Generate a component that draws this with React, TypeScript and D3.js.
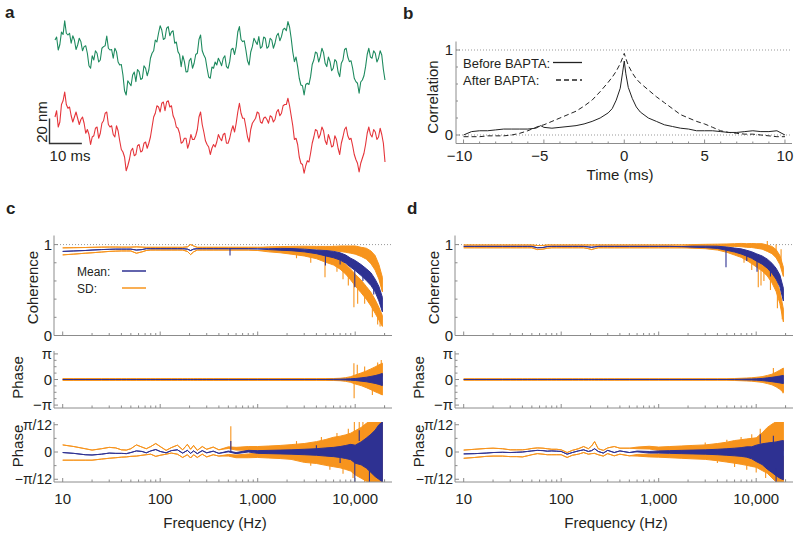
import React from 'react';
import * as d3 from 'd3';

// ---------------- Panel a: traces (nm, 0.5 ms steps) ----------------
const traceGreen = [
  13.6, 16, 5.6, 10, 20, 18, 29, 19, 17.6, 19, 11, 17, 13.6, 6, 9.6, 15, 12.3, 5, 8.3, 9,
  3, -7, -9, 1, -2.4, 5, 3, -4, -2.4, 7, 8.3, 9, 16.8, 7, 5.6, 6, -1, 7, 4.3, -4,
  -6.4, -6, -14.4, -27, -30.4, -19, -21, -23, -14.4, -12, -19.7, -10, -11.7, -18, -17, -7, -9, -15, -10.4, -1,
  3, 5, 13.6, 12, 19, 25, 21.6, 14, 15, 23, 24.3, 17, 20, 21, 11, 12, 4.3, 2, -7.7, 1,
  -3.7, -12, -11.7, -3, -1, -9, -5, 2, 3, 14, 17.6, 5, 1.6, -1, -9, -16, -17, -8, -9, -4,
  -6.4, -1, -3.7, -7, -1, 1, -7.7, -9, -3.7, 6, 7, 2, 8.3, 20, 24.3, 14, 12.3, 13, 5.6, -3,
  -6.4, 4, 8.3, 15, 12.3, 10, 16.3, 7, 8.3, 16, 15, 7, 8.3, 15, 13.6, 7, 11, 17, 19, 13,
  16.3, 22, 23, 21, 28.3, 24, 15, 4, -3.7, 0, -7.7, -17, -22.4, -23, -30.4, -22, -21, -22, -15.7, -6,
  -2.4, 4, 3, -4, 0.3, 7, 3.5, -5, -7.7, 0, -3.7, -11, -9, -2, -3.7, -12, -15.7, -5, -2.4, 6,
  7, 0, -3.7, -3, -9, -17, -19.7, -21, -29, -20, -18.4, -15, -7.7, 2, 7, 0, -1, 5, 3, -4,
  -1, 5, 1.6, -10, -18.4,
];
const traceRed = [
  12, 17, 4, 8, 22, 25, 32, 22, 19, 20, 13, 8, 12, 16, 11, 6, 10, 12, 7, -1,
  2, -2, -10, -4, -3, 3, 4, -5, -1, 7, 9, 15, 16, 6, 4, 5, -2, -4, 5, 1,
  -7, -14, -16, -20, -31, -27, -22, -15, -13, -19, -18, -11, -10, -16, -15, -9, -8, -13, -9, -4,
  4, 12, 15, 21, 20, 16, 23, 24, 17, 24, 25, 20, 21, 13, 10, 4, 3, -1, -9, -8,
  -5, -5, -13, -9, -2, -6, -6, -3, 2, 12, 16, 6, 0, -7, -10, -12, -18, -13, -10, -12,
  -8, -2, -5, -7, -2, -1, -9, -9, -5, 1, 5, 0, 7, 16, 23, 15, 11, 11, 4, -4,
  -8, 2, 7, 9, 11, 16, 15, 8, 7, 11, 12, 10, 7, 13, 12, 8, 10, 16, 18, 13,
  15, 21, 22, 22, 27, 21, 13, 5, -6, -5, -10, -20, -25, -26, -33, -27, -23, -24, -17, -9,
  -4, 2, 1, -5, -2, 4, 1, -7, -10, -2, -6, -12, -11, -3, -6, -13, -18, -9, -4, 2,
  4, -3, -6, -5, -11, -18, -22, -25, -32, -25, -21, -17, -10, -1, 4, -2, -4, 2, 0, -6,
  -4, 3, -2, -9, -24,
];
const traceDurationMs = 102;

// ---------------- Panel b: correlation ----------------
const corrTime = [-10, -9.5, -9, -8.5, -8, -7.5, -7, -6.5, -6, -5.5, -5.2, -5, -4.5, -4, -3.5, -3, -2.5, -2, -1.5, -1,
  -0.75, -0.5, -0.25, -0.1, 0, 0.1, 0.25, 0.5, 0.75, 1, 1.5, 2, 2.5, 3, 3.5, 4, 4.5, 5, 5.5, 6,
  6.5, 7, 7.5, 8, 8.5, 9, 9.5, 10];
const corrBefore = [0.0, 0.04, 0.05, 0.05, 0.06, 0.07, 0.07, 0.07, 0.07, 0.08, 0.11, 0.09, 0.08, 0.09, 0.1, 0.11, 0.13, 0.16, 0.2, 0.26,
  0.31, 0.41, 0.55, 0.74, 0.87, 0.72, 0.56, 0.43, 0.33, 0.27, 0.2, 0.16, 0.12, 0.1, 0.08, 0.07, 0.05, 0.05, 0.05, 0.04,
  0.03, 0.03, 0.04, 0.05, 0.04, 0.04, 0.05, 0.0];
const corrAfter = [-0.02, -0.02, -0.02, -0.01, -0.01, -0.01, 0, 0.02, 0.05, 0.09, 0.11, 0.12, 0.16, 0.2, 0.24, 0.28, 0.34, 0.41, 0.51, 0.62,
  0.68, 0.75, 0.84, 0.91, 0.96, 0.9, 0.82, 0.73, 0.66, 0.61, 0.53, 0.45, 0.38, 0.31, 0.24, 0.2, 0.16, 0.13, 0.09, 0.05,
  0.03, 0.02, 0.01, 0.01, 0, -0.01, -0.02, -0.02];
const corrXTicks = [-10, -5, 0, 5, 10];
const corrYTicks = [0, 1];

// ---------------- Panels c, d: spectra ----------------
const freq = [10, 13, 17, 20, 25, 30, 35, 40, 45, 50, 57, 65, 72, 80, 90, 100, 115, 130, 150, 170,
  190, 205, 220, 240, 270, 300, 350, 400, 500, 600, 800, 1000, 1300, 1700, 2200, 3000, 4000, 5000, 6000, 7000,
  8000, 9000, 10000, 11500, 13000, 14500, 16000, 17500, 19000];
const freqTicks = [10, 100, 1000, 10000];
const freqTickLabels = ['10', '100', '1,000', '10,000'];

// c — coherence
const cCohMean = [0.925, 0.93, 0.935, 0.94, 0.945, 0.948, 0.95, 0.95, 0.95, 0.95,
  0.94, 0.945, 0.955, 0.955, 0.955, 0.955, 0.955, 0.955, 0.955, 0.955,
  0.95, 0.935, 0.95, 0.955, 0.955, 0.955, 0.955, 0.955, 0.955, 0.955,
  0.955, 0.953, 0.95, 0.948, 0.945, 0.935, 0.92, 0.905, 0.89, 0.87,
  0.84, 0.8, 0.77, 0.72, 0.67, 0.62, 0.55, 0.46, 0.34];
const cCohMeanW = [0, 0, 0, 0, 0, 0, 0, 0, 0, 0,
  0, 0, 0, 0, 0, 0, 0, 0, 0, 0,
  0, 0, 0, 0, 0, 0, 0, 0, 0, 0,
  0, 0, 0.005, 0.01, 0.012, 0.015, 0.02, 0.03, 0.035, 0.04,
  0.045, 0.05, 0.055, 0.06, 0.065, 0.07, 0.07, 0.08, 0.08];
const cCohUp = [0.964, 0.966, 0.968, 0.97, 0.972, 0.973, 0.973, 0.972, 0.972, 0.972,
  0.975, 0.972, 0.97, 0.97, 0.97, 0.97, 0.97, 0.97, 0.97, 0.97,
  0.975, 1.0, 0.985, 0.97, 0.97, 0.97, 0.97, 0.97, 0.97, 0.97,
  0.97, 0.97, 0.97, 0.97, 0.97, 0.97, 0.965, 0.96, 0.955, 0.955,
  0.95, 0.945, 0.94, 0.92, 0.9, 0.86, 0.8, 0.7, 0.56];
const cCohUpW = [0, 0, 0, 0, 0, 0, 0, 0, 0, 0,
  0, 0, 0, 0, 0, 0, 0, 0, 0, 0,
  0, 0, 0, 0, 0, 0, 0, 0, 0, 0,
  0, 0, 0.005, 0.008, 0.01, 0.012, 0.015, 0.02, 0.025, 0.03,
  0.035, 0.04, 0.045, 0.05, 0.06, 0.07, 0.08, 0.08, 0.08];
const cCohLo = [0.887, 0.895, 0.905, 0.91, 0.918, 0.925, 0.928, 0.93, 0.93, 0.93,
  0.905, 0.92, 0.935, 0.94, 0.94, 0.94, 0.94, 0.94, 0.94, 0.94,
  0.925, 0.89, 0.92, 0.94, 0.94, 0.94, 0.94, 0.94, 0.94, 0.94,
  0.94, 0.935, 0.93, 0.925, 0.915, 0.9, 0.875, 0.845, 0.82, 0.78,
  0.73, 0.67, 0.61, 0.54, 0.47, 0.4, 0.32, 0.24, 0.16];
const cCohLoW = [0, 0, 0, 0, 0, 0, 0, 0, 0, 0,
  0, 0, 0, 0, 0, 0, 0, 0, 0, 0,
  0, 0, 0, 0, 0, 0, 0, 0, 0, 0,
  0, 0, 0.01, 0.015, 0.02, 0.025, 0.03, 0.04, 0.045, 0.05,
  0.055, 0.06, 0.065, 0.07, 0.07, 0.075, 0.075, 0.07, 0.06];
const cCohSpikes = [
  { f: 520, from: 0.955, to: 0.88, s: 'mean' },
  { f: 4900, from: 0.9, to: 0.64, s: 'sd' },
  { f: 4950, from: 0.9, to: 0.77, s: 'mean' },
  { f: 9700, from: 0.6, to: 0.31, s: 'sd' },
  { f: 10600, from: 0.6, to: 0.35, s: 'sd' },
  { f: 9900, from: 0.72, to: 0.53, s: 'mean' },
  { f: 2500, from: 0.9, to: 0.85, s: 'sd' },
  { f: 3500, from: 0.88, to: 0.8, s: 'sd' },
  { f: 6500, from: 0.8, to: 0.7, s: 'sd' },
  { f: 7500, from: 0.75, to: 0.62, s: 'sd' },
  { f: 8500, from: 0.7, to: 0.55, s: 'sd' },
  { f: 12500, from: 0.5, to: 0.35, s: 'sd' },
  { f: 15000, from: 0.38, to: 0.2, s: 'sd' },
  { f: 17000, from: 0.25, to: 0.12, s: 'sd' },
  { f: 18000, from: 0.2, to: 0.1, s: 'sd' },
  { f: 6000, from: 0.96, to: 0.99, s: 'sd' },
  { f: 12000, from: 0.93, to: 0.97, s: 'sd' },
  { f: 7000, from: 0.85, to: 0.78, s: 'mean' },
  { f: 12000, from: 0.7, to: 0.6, s: 'mean' },
  { f: 15500, from: 0.56, to: 0.45, s: 'mean' },
];

// c — phase (radians)
const cPhMean = [0, 0, 0, 0, 0, 0, 0, 0, 0, 0,
  0, 0, 0, 0, 0, 0, 0, 0, 0, 0,
  0, 0, 0, 0, 0, 0, 0, 0, 0, 0,
  0, 0, 0, 0, 0, 0, 0, 0, 0, 0,
  0, 0, 0, 0, 0, 0, 0, 0, 0];
const cPhMeanW = [0, 0, 0, 0, 0, 0, 0, 0, 0, 0,
  0, 0, 0, 0, 0, 0, 0, 0, 0, 0,
  0, 0, 0, 0, 0, 0, 0, 0, 0, 0,
  0, 0, 0, 0, 0, 0, 0, 0, 0.02, 0.04,
  0.06, 0.09, 0.12, 0.2, 0.28, 0.38, 0.48, 0.6, 0.75];
const cPhUp = [0.1, 0.1, 0.1, 0.1, 0.1, 0.1, 0.1, 0.1, 0.1, 0.1,
  0.1, 0.1, 0.1, 0.1, 0.1, 0.1, 0.1, 0.1, 0.1, 0.1,
  0.1, 0.1, 0.1, 0.1, 0.1, 0.1, 0.1, 0.1, 0.1, 0.1,
  0.1, 0.1, 0.1, 0.1, 0.1, 0.1, 0.1, 0.1, 0.1, 0.12,
  0.17, 0.25, 0.35, 0.5, 0.65, 0.8, 0.95, 1.1, 1.2];
const cPhUpW = [0, 0, 0, 0, 0, 0, 0, 0, 0, 0,
  0, 0, 0, 0, 0, 0, 0, 0, 0, 0,
  0, 0, 0, 0, 0, 0, 0, 0, 0, 0,
  0, 0, 0, 0, 0, 0, 0, 0.02, 0.02, 0.03,
  0.06, 0.1, 0.2, 0.3, 0.4, 0.5, 0.6, 0.7, 0.8];
const cPhLo = [-0.1, -0.1, -0.1, -0.1, -0.1, -0.1, -0.1, -0.1, -0.1, -0.1,
  -0.1, -0.1, -0.1, -0.1, -0.1, -0.1, -0.1, -0.1, -0.1, -0.1,
  -0.1, -0.1, -0.1, -0.1, -0.1, -0.1, -0.1, -0.1, -0.1, -0.1,
  -0.1, -0.1, -0.1, -0.1, -0.1, -0.1, -0.1, -0.1, -0.1, -0.12,
  -0.17, -0.25, -0.35, -0.45, -0.6, -0.75, -0.9, -1.0, -1.1];
const cPhLoW = [0, 0, 0, 0, 0, 0, 0, 0, 0, 0,
  0, 0, 0, 0, 0, 0, 0, 0, 0, 0,
  0, 0, 0, 0, 0, 0, 0, 0, 0, 0,
  0, 0, 0, 0, 0, 0, 0, 0.02, 0.02, 0.03,
  0.06, 0.1, 0.2, 0.3, 0.4, 0.5, 0.6, 0.7, 0.8];
const cPhSpikes = [
  { f: 9700, from: -0.3, to: 2.0, s: 'sd' },
  { f: 9750, from: 0.3, to: -2.3, s: 'sd' },
  { f: 10500, from: 0.3, to: 1.8, s: 'sd' },
  { f: 12500, from: 0.8, to: 1.6, s: 'sd' },
  { f: 15000, from: -1.0, to: -1.9, s: 'sd' },
  { f: 17000, from: 1.3, to: 2.1, s: 'sd' },
  { f: 18500, from: 1.0, to: 2.4, s: 'sd' },
];

// c — zoomed phase (units of π/12)
const cPh2Mean = [-0.02, -0.05, -0.1, -0.11, -0.08, -0.04, -0.05, -0.05, -0.06, -0.02,
  0.04, 0.02, -0.03, 0.04, 0.09, 0.02, -0.03, 0.05, 0.08, -0.04,
  0.06, -0.05, 0.04, -0.06, 0.05, -0.03, 0.03, -0.05, 0.02, -0.04,
  0.03, 0, 0, 0, 0, 0, 0, 0, 0, 0,
  0, 0, -0.08, -0.05, -0.04, -0.05, -0.05, 0, 0];
const cPh2MeanW = [0, 0, 0, 0, 0, 0, 0, 0, 0, 0,
  0, 0, 0, 0, 0, 0, 0, 0, 0, 0,
  0, 0, 0, 0, 0, 0, 0, 0, 0.015, 0.02,
  0.03, 0.05, 0.06, 0.07, 0.08, 0.1, 0.12, 0.15, 0.17, 0.2,
  0.24, 0.28, 0.33, 0.42, 0.55, 0.7, 0.85, 1.0, 1.1];
const cPh2Up = [0.26, 0.2, 0.12, 0.07, 0.12, 0.17, 0.15, 0.08, 0.07, 0.12,
  0.26, 0.18, 0.12, 0.2, 0.31, 0.2, 0.06, 0.16, 0.25, 0.08,
  0.28, 0.1, 0.24, 0.06, 0.2, 0.1, 0.18, 0.08, 0.16, 0.12,
  0.13, 0.12, 0.13, 0.14, 0.15, 0.17, 0.2, 0.24, 0.28, 0.3,
  0.33, 0.36, 0.4, 0.45, 0.5, 0.55, 0.6, 0.65, 0.7];
const cPh2UpW = [0, 0, 0, 0, 0, 0, 0, 0, 0, 0,
  0, 0, 0, 0, 0, 0, 0, 0, 0, 0,
  0, 0, 0, 0, 0, 0, 0, 0, 0.03, 0.05,
  0.07, 0.08, 0.09, 0.1, 0.12, 0.14, 0.18, 0.22, 0.26, 0.28,
  0.3, 0.33, 0.38, 0.45, 0.55, 0.6, 0.65, 0.7, 0.75];
const cPh2Lo = [-0.3, -0.3, -0.3, -0.3, -0.26, -0.23, -0.21, -0.19, -0.18, -0.16,
  -0.15, -0.12, -0.1, -0.08, -0.16, -0.12, -0.08, -0.04, -0.08, -0.2,
  -0.1, -0.22, -0.1, -0.2, -0.08, -0.18, -0.1, -0.15, -0.12, -0.16,
  -0.14, -0.12, -0.13, -0.14, -0.15, -0.2, -0.22, -0.25, -0.28, -0.3,
  -0.33, -0.36, -0.42, -0.48, -0.52, -0.56, -0.6, -0.65, -0.7];
const cPh2LoW = [0, 0, 0, 0, 0, 0, 0, 0, 0, 0,
  0, 0, 0, 0, 0, 0, 0, 0, 0, 0,
  0, 0, 0, 0, 0, 0, 0, 0, 0.03, 0.05,
  0.07, 0.08, 0.09, 0.1, 0.12, 0.18, 0.2, 0.24, 0.26, 0.28,
  0.31, 0.34, 0.42, 0.48, 0.55, 0.6, 0.65, 0.7, 0.75];
const cPh2Spikes = [
  { f: 530, from: 0.15, to: 0.94, s: 'sd' },
  { f: 530, from: 0.0, to: 0.4, s: 'mean' },
  { f: 9800, from: 0.5, to: 1.1, s: 'sd' },
  { f: 12000, from: 0.5, to: 1.1, s: 'sd' },
  { f: 2500, from: 0.25, to: 0.4, s: 'sd' },
  { f: 4500, from: 0.4, to: 0.55, s: 'sd' },
  { f: 6500, from: 0.5, to: 0.7, s: 'sd' },
  { f: 8500, from: 0.6, to: 0.85, s: 'sd' },
  { f: 11000, from: 0.8, to: 1.1, s: 'sd' },
  { f: 3500, from: -0.3, to: -0.5, s: 'sd' },
  { f: 5500, from: -0.45, to: -0.65, s: 'sd' },
  { f: 7500, from: -0.55, to: -0.8, s: 'sd' },
  { f: 9500, from: -0.7, to: -0.95, s: 'sd' },
  { f: 12500, from: -0.9, to: -1.1, s: 'sd' },
  { f: 9900, from: -0.3, to: -1.1, s: 'mean' },
  { f: 4000, from: 0.1, to: 0.25, s: 'mean' },
  { f: 7000, from: -0.2, to: -0.4, s: 'mean' },
  { f: 11000, from: 0.4, to: 0.8, s: 'mean' },
  { f: 14000, from: -0.7, to: -1.1, s: 'mean' },
];

// d — coherence
const dCohMean = [0.98, 0.98, 0.98, 0.98, 0.98, 0.98, 0.98, 0.98, 0.98, 0.98,
  0.965, 0.968, 0.978, 0.98, 0.98, 0.98, 0.98, 0.98, 0.98, 0.98,
  0.975, 0.97, 0.975, 0.98, 0.98, 0.98, 0.98, 0.98, 0.98, 0.98,
  0.98, 0.98, 0.98, 0.978, 0.977, 0.975, 0.97, 0.955, 0.94, 0.925,
  0.905, 0.885, 0.86, 0.83, 0.79, 0.74, 0.68, 0.6, 0.45];
const dCohMeanW = [0, 0, 0, 0, 0, 0, 0, 0, 0, 0,
  0, 0, 0, 0, 0, 0, 0, 0, 0, 0,
  0, 0, 0, 0, 0, 0, 0, 0, 0, 0,
  0, 0, 0, 0, 0.005, 0.008, 0.012, 0.018, 0.022, 0.028,
  0.032, 0.036, 0.04, 0.045, 0.05, 0.055, 0.06, 0.065, 0.07];
const dCohUp = [0.995, 0.995, 0.995, 0.995, 0.995, 0.995, 0.995, 0.995, 0.995, 0.995,
  0.99, 0.99, 0.995, 0.995, 0.995, 0.995, 0.995, 0.995, 0.995, 0.995,
  0.995, 0.995, 0.995, 0.995, 0.995, 0.995, 0.995, 0.995, 0.995, 0.995,
  0.995, 0.995, 0.995, 0.995, 0.995, 0.995, 0.995, 0.995, 0.995, 0.995,
  0.99, 0.99, 0.985, 0.98, 0.96, 0.94, 0.9, 0.83, 0.7];
const dCohUpW = [0, 0, 0, 0, 0, 0, 0, 0, 0, 0,
  0, 0, 0, 0, 0, 0, 0, 0, 0, 0,
  0, 0, 0, 0, 0, 0, 0, 0, 0, 0,
  0, 0, 0, 0, 0.005, 0.008, 0.01, 0.012, 0.015, 0.018,
  0.02, 0.022, 0.025, 0.03, 0.035, 0.04, 0.045, 0.05, 0.05];
const dCohLo = [0.965, 0.965, 0.965, 0.965, 0.965, 0.965, 0.965, 0.965, 0.965, 0.965,
  0.945, 0.95, 0.96, 0.965, 0.965, 0.965, 0.965, 0.965, 0.965, 0.965,
  0.955, 0.945, 0.955, 0.965, 0.965, 0.965, 0.965, 0.965, 0.965, 0.965,
  0.965, 0.965, 0.965, 0.965, 0.965, 0.965, 0.955, 0.935, 0.91, 0.89,
  0.86, 0.83, 0.8, 0.76, 0.71, 0.64, 0.55, 0.42, 0.22];
const dCohLoW = [0, 0, 0, 0, 0, 0, 0, 0, 0, 0,
  0, 0, 0, 0, 0, 0, 0, 0, 0, 0,
  0, 0, 0, 0, 0, 0, 0, 0, 0, 0,
  0, 0, 0, 0, 0.005, 0.01, 0.015, 0.02, 0.025, 0.03,
  0.035, 0.04, 0.045, 0.05, 0.055, 0.06, 0.065, 0.07, 0.07];
const dCohSpikes = [
  { f: 4900, from: 0.96, to: 0.75, s: 'mean' },
  { f: 10500, from: 0.8, to: 0.53, s: 'sd' },
  { f: 11200, from: 0.78, to: 0.55, s: 'sd' },
  { f: 13000, from: 0.96, to: 1.04, s: 'sd' },
  { f: 10200, from: 0.85, to: 0.7, s: 'mean' },
  { f: 7500, from: 0.88, to: 0.8, s: 'sd' },
  { f: 9000, from: 0.83, to: 0.72, s: 'sd' },
  { f: 12000, from: 0.75, to: 0.6, s: 'sd' },
  { f: 14000, from: 0.66, to: 0.5, s: 'sd' },
  { f: 16500, from: 0.5, to: 0.3, s: 'sd' },
  { f: 18500, from: 0.3, to: 0.18, s: 'sd' },
  { f: 16000, from: 0.92, to: 1.0, s: 'sd' },
  { f: 18000, from: 0.8, to: 0.95, s: 'sd' },
  { f: 8000, from: 0.9, to: 0.82, s: 'mean' },
  { f: 14000, from: 0.75, to: 0.65, s: 'mean' },
];

// d — phase (radians)
const dPhMean = [0, 0, 0, 0, 0, 0, 0, 0, 0, 0,
  0, 0, 0, 0, 0, 0, 0, 0, 0, 0,
  0, 0, 0, 0, 0, 0, 0, 0, 0, 0,
  0, 0, 0, 0, 0, 0, 0, 0, 0, 0,
  0, 0, 0, 0, 0, 0, 0, 0, 0];
const dPhMeanW = [0, 0, 0, 0, 0, 0, 0, 0, 0, 0,
  0, 0, 0, 0, 0, 0, 0, 0, 0, 0,
  0, 0, 0, 0, 0, 0, 0, 0, 0, 0,
  0, 0, 0, 0, 0, 0, 0, 0, 0.01, 0.03,
  0.05, 0.06, 0.08, 0.13, 0.2, 0.27, 0.35, 0.42, 0.5];
const dPhUp = [0.08, 0.08, 0.08, 0.08, 0.08, 0.08, 0.08, 0.08, 0.08, 0.08,
  0.08, 0.08, 0.08, 0.08, 0.08, 0.08, 0.08, 0.08, 0.08, 0.08,
  0.08, 0.08, 0.08, 0.08, 0.08, 0.08, 0.08, 0.08, 0.08, 0.08,
  0.08, 0.08, 0.08, 0.08, 0.08, 0.08, 0.08, 0.08, 0.1, 0.12,
  0.14, 0.16, 0.2, 0.25, 0.35, 0.45, 0.6, 0.75, 0.9];
const dPhUpW = [0, 0, 0, 0, 0, 0, 0, 0, 0, 0,
  0, 0, 0, 0, 0, 0, 0, 0, 0, 0,
  0, 0, 0, 0, 0, 0, 0, 0, 0, 0,
  0, 0, 0, 0, 0, 0, 0, 0, 0.02, 0.03,
  0.04, 0.05, 0.07, 0.1, 0.15, 0.2, 0.3, 0.4, 0.5];
const dPhLo = [-0.08, -0.08, -0.08, -0.08, -0.08, -0.08, -0.08, -0.08, -0.08, -0.08,
  -0.08, -0.08, -0.08, -0.08, -0.08, -0.08, -0.08, -0.08, -0.08, -0.08,
  -0.08, -0.08, -0.08, -0.08, -0.08, -0.08, -0.08, -0.08, -0.08, -0.08,
  -0.08, -0.08, -0.08, -0.08, -0.08, -0.08, -0.08, -0.08, -0.1, -0.12,
  -0.14, -0.16, -0.2, -0.25, -0.35, -0.45, -0.6, -0.8, -1.0];
const dPhLoW = [0, 0, 0, 0, 0, 0, 0, 0, 0, 0,
  0, 0, 0, 0, 0, 0, 0, 0, 0, 0,
  0, 0, 0, 0, 0, 0, 0, 0, 0, 0,
  0, 0, 0, 0, 0, 0, 0, 0, 0.02, 0.03,
  0.04, 0.05, 0.07, 0.1, 0.15, 0.2, 0.3, 0.4, 0.6];
const dPhSpikes = [
  { f: 15000, from: 0.5, to: 1.4, s: 'sd' },
  { f: 18800, from: -0.8, to: -1.7, s: 'sd' },
];

// d — zoomed phase (units of π/12)
const dPh2Mean = [-0.07, -0.06, -0.04, -0.02, -0.01, -0.02, -0.01, 0, 0.02, 0.04,
  0.06, 0.05, 0.03, 0.04, 0.03, 0.02, -0.08, -0.02, 0.04, 0.08,
  0.02, 0.05, 0.12, 0.02, -0.04, 0.06, -0.02, 0.04, -0.02, 0.02,
  -0.01, 0, 0, 0, 0, 0, 0, 0, 0, 0,
  0, -0.03, -0.05, -0.08, -0.15, -0.2, -0.25, -0.28, -0.3];
const dPh2MeanW = [0, 0, 0, 0, 0, 0, 0, 0, 0, 0,
  0, 0, 0, 0, 0, 0, 0, 0, 0, 0,
  0, 0, 0, 0, 0, 0, 0, 0, 0, 0.015,
  0.03, 0.04, 0.05, 0.06, 0.07, 0.08, 0.1, 0.12, 0.14, 0.16,
  0.19, 0.22, 0.3, 0.38, 0.48, 0.55, 0.62, 0.68, 0.72];
const dPh2Up = [0.07, 0.1, 0.13, 0.14, 0.12, 0.08, 0.08, 0.08, 0.1, 0.13,
  0.15, 0.14, 0.12, 0.1, 0.1, 0.08, -0.02, 0.06, 0.12, 0.2,
  0.12, 0.22, 0.38, 0.12, 0.06, 0.15, 0.2, 0.14, 0.14, 0.15,
  0.16, 0.12, 0.13, 0.14, 0.15, 0.16, 0.18, 0.2, 0.22, 0.24,
  0.26, 0.27, 0.28, 0.35, 0.45, 0.52, 0.56, 0.58, 0.6];
const dPh2UpW = [0, 0, 0, 0, 0, 0, 0, 0, 0, 0,
  0, 0, 0, 0, 0, 0, 0, 0, 0, 0,
  0, 0, 0, 0, 0, 0, 0, 0, 0, 0.03,
  0.05, 0.06, 0.07, 0.08, 0.09, 0.1, 0.13, 0.16, 0.2, 0.21,
  0.22, 0.23, 0.24, 0.35, 0.45, 0.5, 0.55, 0.55, 0.55];
const dPh2Lo = [-0.23, -0.2, -0.16, -0.15, -0.15, -0.17, -0.17, -0.18, -0.14, -0.1,
  -0.06, -0.08, -0.1, -0.1, -0.1, -0.1, -0.2, -0.12, -0.08, -0.02,
  -0.08, -0.06, -0.05, -0.1, -0.15, -0.06, -0.14, -0.08, -0.14, -0.12,
  -0.13, -0.13, -0.14, -0.15, -0.16, -0.17, -0.19, -0.21, -0.22, -0.24,
  -0.26, -0.28, -0.3, -0.38, -0.45, -0.55, -0.6, -0.65, -0.65];
const dPh2LoW = [0, 0, 0, 0, 0, 0, 0, 0, 0, 0,
  0, 0, 0, 0, 0, 0, 0, 0, 0, 0,
  0, 0, 0, 0, 0, 0, 0, 0, 0, 0.03,
  0.05, 0.06, 0.07, 0.08, 0.09, 0.1, 0.13, 0.16, 0.19, 0.21,
  0.23, 0.25, 0.26, 0.3, 0.33, 0.4, 0.5, 0.5, 0.5];
const dPh2Spikes = [
  { f: 16000, from: -0.6, to: -1.1, s: 'mean' },
  { f: 3000, from: 0.25, to: 0.35, s: 'sd' },
  { f: 5000, from: 0.35, to: 0.45, s: 'sd' },
  { f: 7000, from: 0.42, to: 0.55, s: 'sd' },
  { f: 9000, from: 0.48, to: 0.65, s: 'sd' },
  { f: 11000, from: 0.6, to: 0.85, s: 'sd' },
  { f: 4000, from: -0.3, to: -0.4, s: 'sd' },
  { f: 6000, from: -0.4, to: -0.55, s: 'sd' },
  { f: 8000, from: -0.48, to: -0.65, s: 'sd' },
  { f: 10000, from: -0.55, to: -0.75, s: 'sd' },
  { f: 12500, from: -0.7, to: -0.95, s: 'sd' },
  { f: 11000, from: 0.3, to: 0.65, s: 'mean' },
  { f: 15000, from: 0.2, to: 0.6, s: 'mean' },
];

// ---------------- style ----------------
const FONT = "'Liberation Sans', Arial, Helvetica, sans-serif";
const BLUE = '#2e3192';
const ORANGE = '#f7941d';
const GREEN = '#1d8a5e';
const RED = '#e5343a';
const AXIS = '#8c8c8c';
const TEXT = '#231f20';

type Spike = { f: number; from: number; to: number; s: string };
type Series = {
  mean: number[]; meanW: number[]; up: number[]; upW: number[]; lo: number[]; loW: number[]; spikes: Spike[];
};

function PanelA() {
  const x = d3.scaleLinear().domain([0, traceDurationMs]).range([55, 385]);
  const y = d3.scaleLinear().domain([-40, 40]).range([107, 7]);
  const redOffset = -60;
  const tG = (i: number) => (i * traceDurationMs) / (traceGreen.length - 1);
  const tR = (i: number) => (i * traceDurationMs) / (traceRed.length - 1);
  const lineG = d3.line<number>().x((_, i) => x(tG(i))).y((v) => y(v));
  const lineR = d3.line<number>().x((_, i) => x(tR(i))).y((v) => y(v + redOffset));
  const barX = 49.5;
  const barBottom = 143.5;
  const barH = y(0) - y(20);
  const barW = x(10) - x(0);
  return (
    <g>
      <text x={5} y={18} fontSize={17} fontWeight="bold" fill={TEXT}>a</text>
      <path d={lineG(traceGreen)!} fill="none" stroke={GREEN} strokeWidth={1.1} strokeLinejoin="round" />
      <path d={lineR(traceRed)!} fill="none" stroke={RED} strokeWidth={1.1} strokeLinejoin="round" />
      <path d={`M${barX},${barBottom - barH}V${barBottom}H${barX + barW}`} fill="none" stroke="#333" strokeWidth={1.4} />
      <text transform={`translate(46.5,${barBottom - barH / 2 - 9}) rotate(-90)`} textAnchor="middle" fontSize={15} fill={TEXT}>20 nm</text>
      <text x={70} y={161} textAnchor="middle" fontSize={15} fill={TEXT}>10 ms</text>
    </g>
  );
}

function PanelB() {
  const x = d3.scaleLinear().domain([-10.5, 10.5]).range([455.5, 793]);
  const y = d3.scaleLinear().domain([-0.1, 1.1]).range([143.5, 41.5]);
  const line = d3.line<number>().x((_, i) => x(corrTime[i])).y((v) => y(v));
  const x0 = 456, x1 = 792, yb = 143.5;
  const minorX = d3.range(-10, 11, 1);
  const minorY = [0.2, 0.4, 0.6, 0.8];
  return (
    <g>
      <text x={403} y={19} fontSize={17} fontWeight="bold" fill={TEXT}>b</text>
      {corrYTicks.map((v) => (
        <line key={'dl' + v} x1={x0} x2={x1} y1={y(v)} y2={y(v)} stroke="#999" strokeWidth={1} strokeDasharray="1,2" />
      ))}
      <line x1={x0} x2={x0} y1={41.5} y2={yb} stroke={AXIS} />
      <line x1={x0} x2={x1} y1={yb} y2={yb} stroke={AXIS} />
      {minorX.map((t) => (
        <line key={'tx' + t} x1={x(t)} x2={x(t)} y1={yb} y2={yb - (t % 5 === 0 ? 4 : 2)} stroke={AXIS} />
      ))}
      {corrYTicks.map((v) => (
        <line key={'ty' + v} x1={x0} x2={x0 + 4} y1={y(v)} y2={y(v)} stroke={AXIS} />
      ))}
      {minorY.map((v) => (
        <line key={'tmy' + v} x1={x0} x2={x0 + 2} y1={y(v)} y2={y(v)} stroke={AXIS} />
      ))}
      {corrXTicks.map((t) => (
        <text key={'lx' + t} x={x(t) + (t < 0 ? -4 : 0)} y={160.5} textAnchor="middle" fontSize={15} fill={TEXT}>
          {t < 0 ? '\u2212' + Math.abs(t) : String(t)}
        </text>
      ))}
      {corrYTicks.map((v) => (
        <text key={'ly' + v} x={453} y={y(v)} dy="0.35em" textAnchor="end" fontSize={15} fill={TEXT}>{v}</text>
      ))}
      <text x={620} y={179.5} textAnchor="middle" fontSize={15} fill={TEXT}>Time (ms)</text>
      <text transform="translate(438,97) rotate(-90)" textAnchor="middle" fontSize={15} fill={TEXT}>Correlation</text>
      <path d={line(corrAfter)!} fill="none" stroke="#222" strokeWidth={1} strokeDasharray="5,3" />
      <path d={line(corrBefore)!} fill="none" stroke="#222" strokeWidth={1} />
      <text x={463} y={67.5} fontSize={13} fill={TEXT}>Before BAPTA:</text>
      <line x1={553} x2={582} y1={62.5} y2={62.5} stroke="#222" strokeWidth={1.3} />
      <text x={463} y={84.5} fontSize={13} fill={TEXT}>After BAPTA:</text>
      <line x1={556} x2={582} y1={80} y2={80} stroke="#222" strokeWidth={1.3} strokeDasharray="5,3" />
    </g>
  );
}

function Band({ x, y, c, w, color }: { x: (v: number) => number; y: (v: number) => number; c: number[]; w: number[]; color: string }) {
  const idx = freq.map((_, i) => i);
  const area = d3.area<number>()
    .x((i) => x(freq[i]))
    .y0((i) => y(c[i] - w[i]))
    .y1((i) => y(c[i] + w[i]));
  return <path d={area(idx)!} fill={color} stroke={color} strokeWidth={1} strokeLinejoin="round" />;
}

function SubPanel({ id, ox, x, y, yTop, yBot, data, ticks, minor, labels, labelSize, dotted }: {
  id: string; ox: number; x: d3.ScaleLogarithmic<number, number>; y: d3.ScaleLinear<number, number>;
  yTop: number; yBot: number; data: Series; ticks: number[]; minor: number[]; labels: string[]; labelSize: number; dotted?: number;
}) {
  const xl = ox + 54;
  const xr = ox + 392;
  const logTicks: { f: number; major: boolean }[] = [];
  for (let d = 10; d <= 10000; d *= 10) {
    for (let k = 1; k <= 9; k++) {
      const f = k * d;
      if (f <= 20000) logTicks.push({ f, major: k === 1 });
    }
  }
  logTicks.push({ f: 20000, major: false });
  const spikeLine = (s: Spike, i: number) => (
    <line key={i} x1={x(s.f)} x2={x(s.f)} y1={y(s.from)} y2={y(s.to)}
      stroke={s.s === 'sd' ? ORANGE : BLUE} strokeWidth={1.1} />
  );
  return (
    <g>
      <defs>
        <clipPath id={id}>
          <rect x={xl} y={yTop} width={xr - xl} height={yBot - yTop} />
        </clipPath>
      </defs>
      {dotted !== undefined && (
        <line x1={xl} x2={xr} y1={y(dotted)} y2={y(dotted)} stroke="#999" strokeDasharray="1,2" />
      )}
      <g clipPath={`url(#${id})`}>
        <Band x={x} y={y} c={data.up} w={data.upW} color={ORANGE} />
        <Band x={x} y={y} c={data.lo} w={data.loW} color={ORANGE} />
        {data.spikes.filter((s) => s.s === 'sd').map(spikeLine)}
        <Band x={x} y={y} c={data.mean} w={data.meanW} color={BLUE} />
        {data.spikes.filter((s) => s.s === 'mean').map(spikeLine)}
      </g>
      <line x1={xl} x2={xl} y1={yTop} y2={yBot} stroke={AXIS} />
      <line x1={xl} x2={xr} y1={yBot} y2={yBot} stroke={AXIS} />
      {logTicks.map((t) => (
        <line key={'lt' + t.f} x1={x(t.f)} x2={x(t.f)} y1={yBot} y2={yBot - (t.major ? 4 : 2.5)} stroke={AXIS} />
      ))}
      {ticks.map((v) => (
        <line key={'yt' + v} x1={xl} x2={xl + 4} y1={y(v)} y2={y(v)} stroke={AXIS} />
      ))}
      {minor.map((v) => (
        <line key={'ym' + v} x1={xl} x2={xl + 2.5} y1={y(v)} y2={y(v)} stroke={AXIS} />
      ))}
      {ticks.map((v, i) => (
        <text key={'yl' + v} x={ox + 52} y={y(v)} dy="0.35em" textAnchor="end" fontSize={labelSize} fill={TEXT}>{labels[i]}</text>
      ))}
    </g>
  );
}

function SpectrumPanel({ ox, letter, coh, ph, ph2, legend }: { ox: number; letter: string; coh: Series; ph: Series; ph2: Series; legend: boolean }) {
  const x = d3.scaleLog().domain([10, 20000]).range([ox + 62.7, ox + 62.7 + 97.5 * Math.log10(2000)]);
  const yCoh = d3.scaleLinear().domain([0, 1.1]).range([335.5, 235.5]);
  const yPh = d3.scaleLinear().domain([-3.5, 3.5]).range([408, 351]);
  const yPh2 = d3.scaleLinear().domain([-1.1, 1.1]).range([482, 422]);
  const PI = Math.PI;
  return (
    <g>
      <text x={ox + 6} y={213.5} fontSize={17} fontWeight="bold" fill={TEXT}>{letter}</text>
      <SubPanel id={'coh' + letter} ox={ox} x={x} y={yCoh} yTop={235.5} yBot={335.5} data={coh}
        ticks={[0, 1]} minor={[0.2, 0.4, 0.6, 0.8]} labels={['0', '1']} labelSize={15} dotted={1} />
      <SubPanel id={'ph' + letter} ox={ox} x={x} y={yPh} yTop={351} yBot={408} data={ph}
        ticks={[-PI, 0, PI]} minor={[-PI / 2, PI / 2, -PI / 4, PI / 4, -3 * PI / 4, 3 * PI / 4]}
        labels={['\u2212\u03c0', '0', '\u03c0']} labelSize={15} />
      <SubPanel id={'ph2' + letter} ox={ox} x={x} y={yPh2} yTop={422} yBot={482} data={ph2}
        ticks={[-1, 0, 1]} minor={[-0.5, 0.5]} labels={['\u2212\u03c0/12', '0', '\u03c0/12']} labelSize={14} />
      <text transform={`translate(${ox + 37.5},287.5) rotate(-90)`} textAnchor="middle" fontSize={15} fill={TEXT}>Coherence</text>
      <text transform={`translate(${ox + 23},377.5) rotate(-90)`} textAnchor="middle" fontSize={15} fill={TEXT}>Phase</text>
      <text transform={`translate(${ox + 23},446) rotate(-90)`} textAnchor="middle" fontSize={15} fill={TEXT}>Phase</text>
      {freqTicks.map((f, i) => (
        <text key={'fl' + f} x={x(f)} y={503.5} textAnchor="middle" fontSize={15} fill={TEXT}>{freqTickLabels[i]}</text>
      ))}
      <text x={ox + 215} y={528} textAnchor="middle" fontSize={15} fill={TEXT}>Frequency (Hz)</text>
      {legend && (
        <g>
          <text x={ox + 77} y={275.5} fontSize={12} fill={TEXT}>Mean:</text>
          <line x1={ox + 122} x2={ox + 146} y1={271} y2={271} stroke={BLUE} strokeWidth={1.5} />
          <text x={ox + 77} y={292.5} fontSize={12} fill={TEXT}>SD:</text>
          <line x1={ox + 122} x2={ox + 146} y1={288} y2={288} stroke={ORANGE} strokeWidth={1.5} />
        </g>
      )}
    </g>
  );
}

export default function App() {
  const cCoh: Series = { mean: cCohMean, meanW: cCohMeanW, up: cCohUp, upW: cCohUpW, lo: cCohLo, loW: cCohLoW, spikes: cCohSpikes };
  const cPh: Series = { mean: cPhMean, meanW: cPhMeanW, up: cPhUp, upW: cPhUpW, lo: cPhLo, loW: cPhLoW, spikes: cPhSpikes };
  const cPh2: Series = { mean: cPh2Mean, meanW: cPh2MeanW, up: cPh2Up, upW: cPh2UpW, lo: cPh2Lo, loW: cPh2LoW, spikes: cPh2Spikes };
  const dCoh: Series = { mean: dCohMean, meanW: dCohMeanW, up: dCohUp, upW: dCohUpW, lo: dCohLo, loW: dCohLoW, spikes: dCohSpikes };
  const dPh: Series = { mean: dPhMean, meanW: dPhMeanW, up: dPhUp, upW: dPhUpW, lo: dPhLo, loW: dPhLoW, spikes: dPhSpikes };
  const dPh2: Series = { mean: dPh2Mean, meanW: dPh2MeanW, up: dPh2Up, upW: dPh2UpW, lo: dPh2Lo, loW: dPh2LoW, spikes: dPh2Spikes };
  return (
    <svg width={800} height={540} style={{ position: 'absolute', left: 0, top: 0, background: '#fff' }}
      fontFamily={FONT}>
      <rect width={800} height={540} fill="#fff" />
      <PanelA />
      <PanelB />
      <SpectrumPanel ox={0} letter="c" coh={cCoh} ph={cPh} ph2={cPh2} legend={true} />
      <SpectrumPanel ox={401} letter="d" coh={dCoh} ph={dPh} ph2={dPh2} legend={false} />
    </svg>
  );
}
